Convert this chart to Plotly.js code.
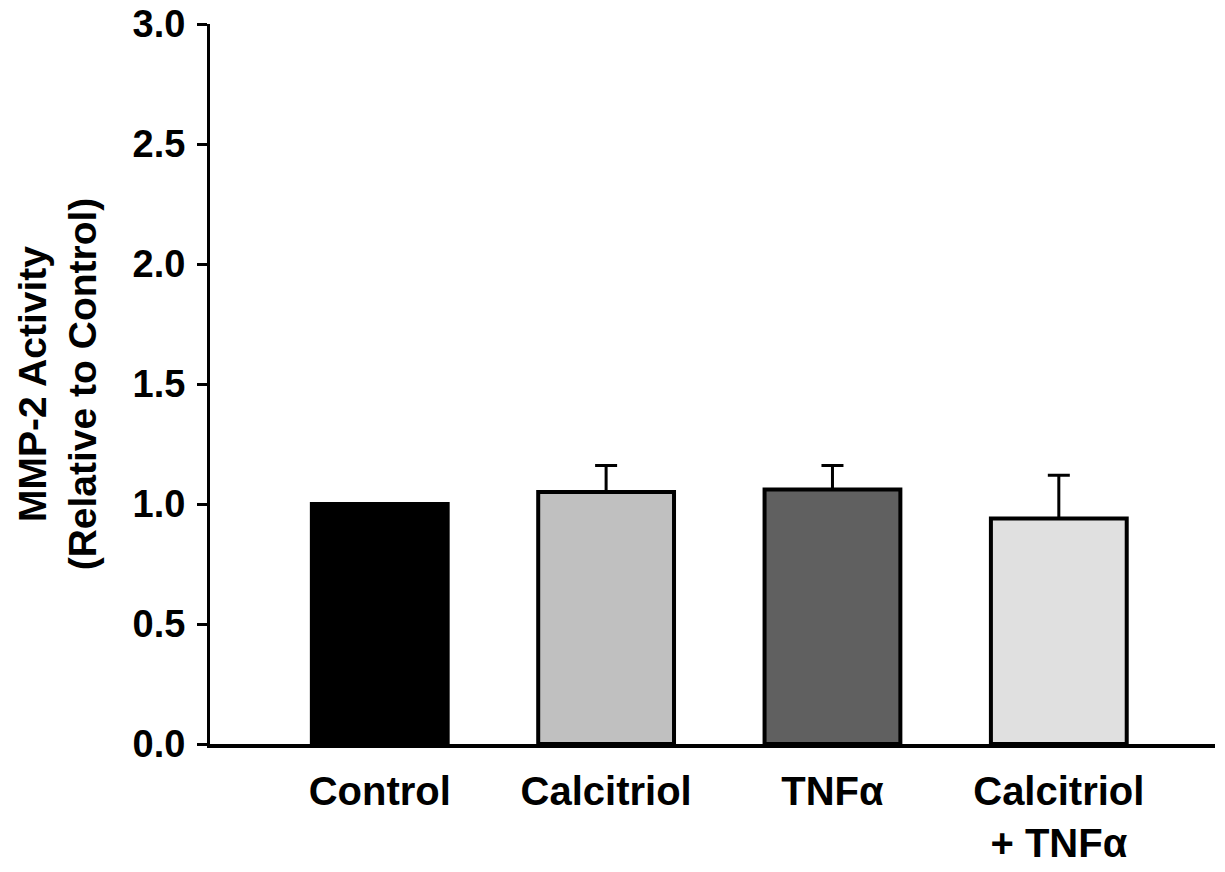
<!DOCTYPE html>
<html>
<head>
<meta charset="utf-8">
<script src="https://cdn.plot.ly/plotly-3.0.1.min.js"></script>
<style>html,body{margin:0;padding:0;background:#fff;}#chart{width:1225px;height:872px;}</style>
</head>
<body>
<div id="chart"></div>
<script>
const categories = ["Control", "Calcitriol", "TNFα", "Calcitriol<br>+ TNFα"];
const values = [1.00, 1.05, 1.06, 0.94];
const errorsUp = [0.00, 0.11, 0.10, 0.18];
const barColors = ["#000000", "#c0c0c0", "#606060", "#e0e0e0"];
const yTickVals = [0, 0.5, 1.0, 1.5, 2.0, 2.5, 3.0];
const yTickText = ["0.0", "0.5", "1.0", "1.5", "2.0", "2.5", "3.0"];

const font = "Arial, 'Liberation Sans', sans-serif";

const trace = {
  type: "bar",
  x: categories.map((c, i) => i),
  y: values,
  width: 0.6,
  marker: { color: barColors, line: { color: "#000", width: 4 } },
  error_y: {
    type: "data", symmetric: false, array: errorsUp,
    arrayminus: values.map(() => 0),
    color: "#000", thickness: 3, width: 11, visible: true
  },
  hoverinfo: "none"
};

const layout = {
  width: 1225, height: 872,
  margin: { l: 210, r: 10, t: 24, b: 128 },
  paper_bgcolor: "#fff", plot_bgcolor: "#fff",
  showlegend: false,
  font: { family: font, color: "#000" },
  xaxis: {
    range: [-0.75, 3.69],
    tickvals: categories.map((c, i) => i),
    ticktext: categories.map(c => "<b>" + c + "</b>"),
    ticks: "", showgrid: false, zeroline: false,
    showline: true, linecolor: "#000", linewidth: 4,
    tickfont: { family: font, size: 40, color: "#000" },
    ticklabelstandoff: 9
  },
  yaxis: {
    range: [0, 3.0],
    tickvals: yTickVals,
    ticktext: yTickText.map(t => "<b>" + t + "</b>"),
    ticks: "outside", ticklen: 10, tickwidth: 3, tickcolor: "#000",
    showgrid: false, zeroline: false,
    showline: true, linecolor: "#000", linewidth: 3,
    tickfont: { family: font, size: 38, color: "#000" },
    ticklabelstandoff: 4,
    title: { text: "<b>MMP-2 Activity<br>(Relative to Control)</b>", font: { family: font, size: 39, color: "#000" }, standoff: 24 }
  }
};

Plotly.newPlot("chart", [trace], layout, { displayModeBar: false, staticPlot: true });
</script>
</body>
</html>
